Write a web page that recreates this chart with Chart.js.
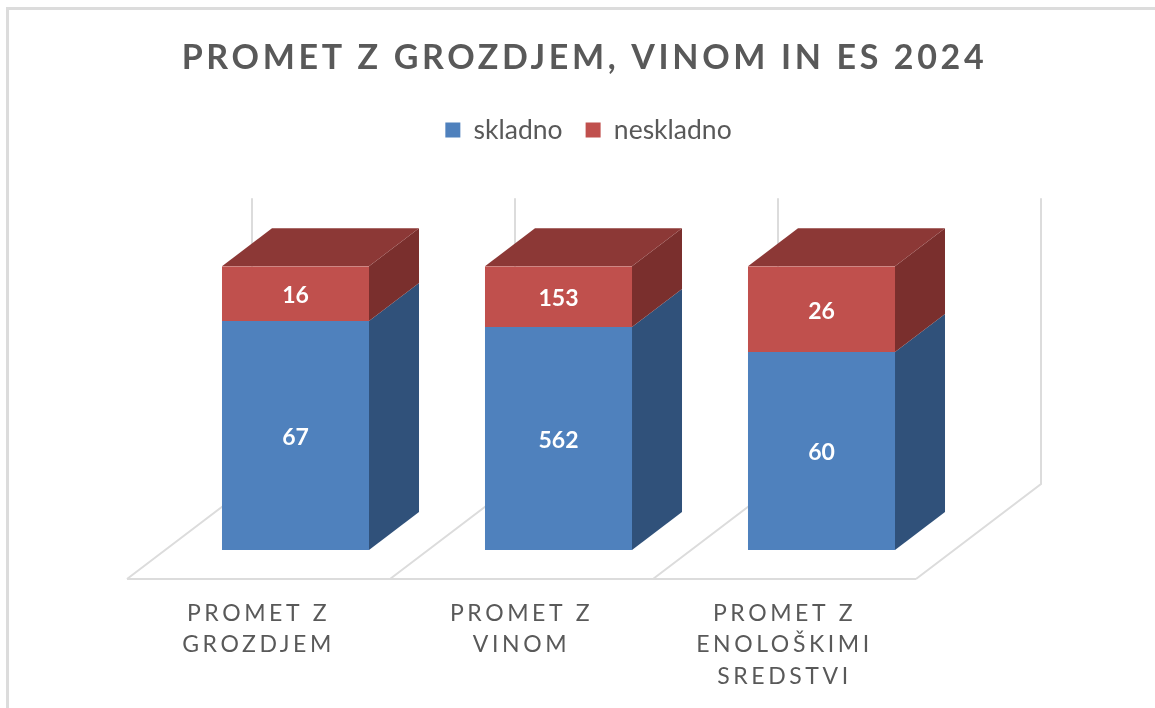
<!DOCTYPE html>
<html>
<head>
<meta charset="utf-8">
<script src="https://cdn.jsdelivr.net/npm/chart.js@4"></script>
<style>
    html, body { margin: 0; background: #fff; overflow: hidden; }
    #frame { position: absolute; left: 6px; top: 7px; width: 1155px; height: 708px; border-left: 3px solid #dcdcdc; border-top: 3px solid #dcdcdc; }
    #myChart { position: absolute; left: 0; top: 0; filter: blur(0.5px); }
</style>
</head>
<body>
<div id="frame"></div>
<canvas id="myChart" width="1155" height="708"></canvas>
<script>
const categories = [["PROMET Z", "GROZDJEM"], ["PROMET Z", "VINOM"], ["PROMET Z", "ENOLOŠKIMI", "SREDSTVI"]];
const skladno = [67, 562, 60];
const neskladno = [16, 153, 26];

// the chart is 100% stacked, labels still show the counts
const share = (value, i) => value / (skladno[i] + neskladno[i]) * 100;

const barDepthX = 50;
const barDepthY = 38;
const floorDepthX = 125;
const floorDepthY = 95;
const gridColor = "#dcdcdc";

function shade(ctx, color, points) {
    ctx.fillStyle = color;
    ctx.beginPath();
    points.forEach((p, i) => i ? ctx.lineTo(p[0], p[1]) : ctx.moveTo(p[0], p[1]));
    ctx.closePath();
    ctx.fill();
}

// title and legend need their own spacing and a small shift
function wrapDraw(box, ctx, spacing, shift) {
    const draw = box.draw;
    box.draw = function () {
        ctx.save();
        ctx.letterSpacing = spacing;
        ctx.translate(shift, 0);
        draw.apply(box, arguments);
        ctx.restore();
    };
}

const boxes = {
    id: "boxes",
    beforeInit(chart) {
        const fit = chart.legend.fit;
        chart.legend.fit = function () {
            fit.call(chart.legend);
            this.height += 113;
        };
        wrapDraw(chart.titleBlock, chart.ctx, "3.65px", 0);
        wrapDraw(chart.legend, chart.ctx, "0px", 30);
    },
    afterLayout(chart) {
        // title is wider than the plot area, give it the whole canvas
        chart.titleBlock.left = 14;
        chart.titleBlock.right = chart.width;
    },
    beforeDraw(chart) {
        chart.ctx.letterSpacing = "3.6px";
    }
};

// floor and back wall, then the top and side of every bar
const box3d = {
    id: "box3d",
    beforeDatasetsDraw(chart) {
        const ctx = chart.ctx;
        const x = chart.scales.x;
        const y = chart.scales.y;
        const step = x.width / categories.length;
        const floorY = y.getPixelForValue(0) + 29;
        const wallTop = y.getPixelForValue(100) - 68;
        const floorLeft = x.left - 37;

        ctx.save();
        ctx.strokeStyle = gridColor;
        ctx.lineWidth = 2;
        ctx.beginPath();
        ctx.moveTo(floorLeft, floorY);
        ctx.lineTo(floorLeft + step * categories.length, floorY);
        for (let i = 0; i <= categories.length; i++) {
            const fx = floorLeft + step * i;
            ctx.moveTo(fx, floorY);
            ctx.lineTo(fx + floorDepthX, floorY - floorDepthY);
            ctx.lineTo(fx + floorDepthX, wallTop);
        }
        ctx.stroke();

        const topMeta = chart.getDatasetMeta(1);
        chart.data.datasets.forEach((dataset, d) => {
            chart.getDatasetMeta(d).data.forEach(bar => {
                const right = bar.x + bar.width / 2;
                shade(ctx, dataset.sideColor, [
                    [right, bar.y],
                    [right + barDepthX, bar.y - barDepthY],
                    [right + barDepthX, bar.base - barDepthY],
                    [right, bar.base]
                ]);
            });
        });
        topMeta.data.forEach(bar => {
            const left = bar.x - bar.width / 2;
            const right = bar.x + bar.width / 2;
            shade(ctx, "#8c3836", [
                [left, bar.y],
                [left + barDepthX, bar.y - barDepthY],
                [right + barDepthX, bar.y - barDepthY],
                [right, bar.y]
            ]);
        });
        ctx.restore();
    },
    afterDatasetsDraw(chart) {
        const ctx = chart.ctx;
        const counts = [skladno, neskladno];
        ctx.save();
        ctx.letterSpacing = "0px";
        ctx.font = "bold 23px Lato";
        ctx.fillStyle = "#fff";
        ctx.textAlign = "center";
        ctx.textBaseline = "middle";
        counts.forEach((values, d) => {
            chart.getDatasetMeta(d).data.forEach((bar, i) => {
                ctx.fillText(values[i], bar.x, (bar.y + bar.base) / 2 + 2);
            });
        });
        ctx.restore();
    }
};

const ctx = document.getElementById("myChart");

new Chart(ctx, {
    type: "bar",
    data: {
        labels: categories,
        datasets: [{
            label: "skladno",
            data: skladno.map(share),
            backgroundColor: "#4f81bd",
            sideColor: "#30517a",
            categoryPercentage: 1,
            barPercentage: 0.559,
        }, {
            label: "neskladno",
            data: neskladno.map(share),
            backgroundColor: "#c0504d",
            sideColor: "#7a2f2d",
            categoryPercentage: 1,
            barPercentage: 0.559,
        }]
    },
    options: {
        responsive: false,
        animation: false,
        layout: {
            padding: { left: 164, right: 202 }
        },
        scales: {
            x: {
                stacked: true,
                grid: { display: false },
                border: { display: false },
                afterFit(scale) { scale.height = 158; },
                ticks: {
                    autoSkip: false,
                    maxRotation: 0,
                    padding: 40,
                    labelOffset: -37,
                    color: "#595959",
                    font: { family: "Lato", size: 23, lineHeight: 1.36 },
                }
            },
            y: {
                display: false,
                stacked: true,
                min: 0,
                max: 100,
            }
        },
        plugins: {
            tooltip: {
                enabled: false,
            },
            title: {
                display: true,
                text: "PROMET Z GROZDJEM, VINOM IN ES 2024",
                color: "#595959",
                font: { family: "Lato", size: 34, weight: "bold" },
                padding: { top: 38, bottom: 15 },
            },
            legend: {
                labels: {
                    boxWidth: 15,
                    boxHeight: 15,
                    padding: 23,
                    color: "#595959",
                    font: { family: "Lato", size: 26.5 },
                }
            }
        }
    },
    plugins: [boxes, box3d]
});
</script>
</body>
</html>
